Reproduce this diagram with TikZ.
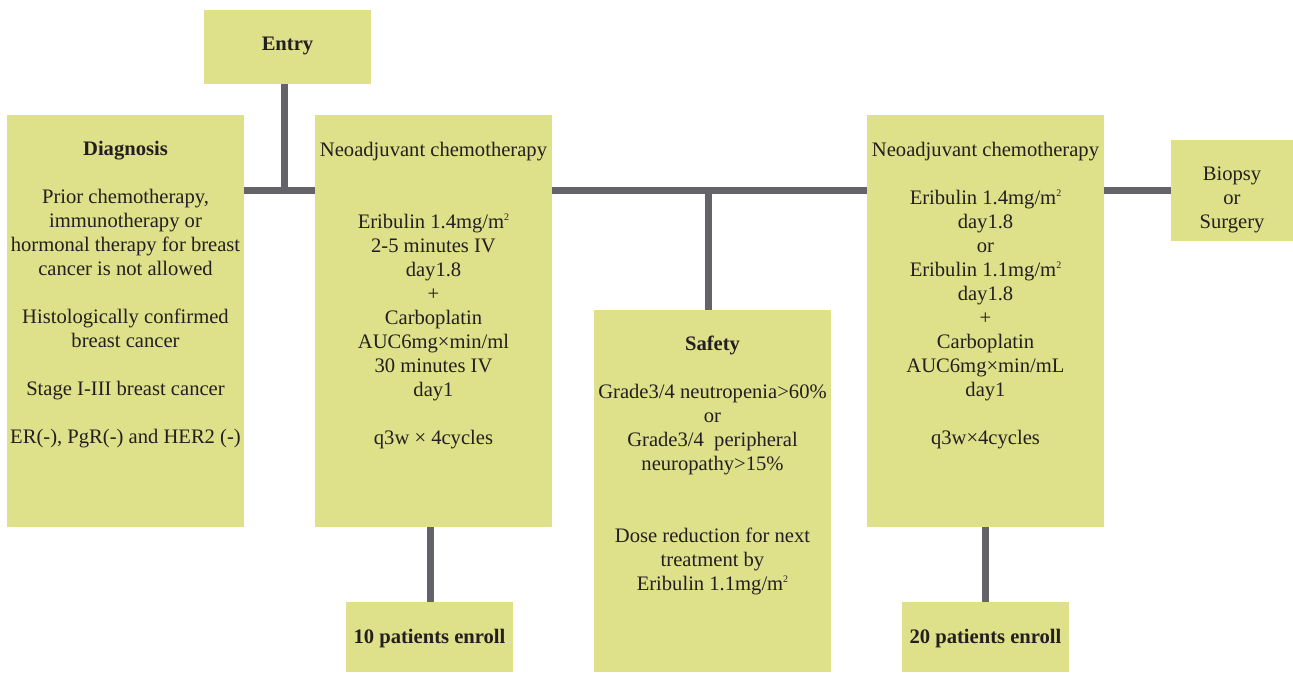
\documentclass[tikz,border=0pt]{standalone}
\usepackage{fontspec}
\setmainfont{Liberation Serif}
\usetikzlibrary{calc}
\definecolor{boxfill}{RGB}{223,224,138}
\definecolor{linec}{RGB}{99,99,105}
\definecolor{txtc}{RGB}{35,31,32}
\tikzset{
 box/.style={fill=boxfill, draw=none, anchor=north west, inner sep=0pt, outer sep=0pt},
 txt/.style={anchor=north, align=center, inner sep=0pt, text=txtc, font=\fontsize{20.6}{24}\selectfont},
 conn/.style={draw=linec, line width=7pt},
}
\newcommand{\msq}{m\raisebox{0.85ex}{\fontsize{10}{10}\selectfont 2}}
\begin{document}
\begin{tikzpicture}[x=1pt,y=-1pt]
\useasboundingbox (0,0) rectangle (1293,672);
% boxes
\node[box, minimum width=167, minimum height=74] (entry) at (204,10) {};
\node[box, minimum width=237, minimum height=412] (diag) at (7,115) {};
\node[box, minimum width=237, minimum height=412] (neo1) at (315,115) {};
\node[box, minimum width=237, minimum height=362] (safety) at (594,310) {};
\node[box, minimum width=237, minimum height=412] (neo2) at (867,115) {};
\node[box, minimum width=122, minimum height=101] (biopsy) at (1171,140) {};
\node[box, minimum width=167, minimum height=70] (p10) at (346,602) {};
\node[box, minimum width=167, minimum height=70] (p20) at (902,602) {};
% connector junctions
\coordinate (j1) at (284,190);
\coordinate (j2) at (708,190);
\coordinate (j3) at (430,560);
\coordinate (j4) at (985,560);
\draw[conn] (diag.east |- j1) -- (neo1.west |- j1);
\draw[conn] (entry.south -| j1) -- ([yshift=3.5pt]j1);
\draw[conn] (neo1.east |- j1) -- (neo2.west |- j1);
\draw[conn] (j2) -- (safety.north -| j2);
\draw[conn] (neo2.east |- j1) -- (biopsy.west |- j1);
\draw[conn] (neo1.south -| j3) -- (p10.north -| j3);
\draw[conn] (neo2.south -| j4) -- (p20.north -| j4);
% texts
\node[txt] (entryt) at ($(entry.north)+(0,27)$) {\textbf{Entry}};
\node[txt] (diagt) at ($(diag.north)+(0,26)$) {\textbf{Diagnosis}\\[24pt]
Prior chemotherapy,\\ immunotherapy or\\ hormonal therapy for breast\\ cancer is not allowed\\[24pt]
Histologically confirmed\\ breast cancer\\[24pt]
Stage I-III breast cancer\\[24pt]
ER(-), PgR(-) and HER2 (-)};
\node[txt] (neo1t) at ($(neo1.north)+(0,27)$) {Neoadjuvant chemotherapy\\[48pt]
Eribulin 1.4mg/\msq\\ 2-5 minutes IV\\ day1.8\\ +\\ Carboplatin\\ AUC6mg×min/ml\\ 30 minutes IV\\ day1\\[24pt]
q3w × 4cycles};
\node[txt] (safetyt) at ($(safety.north)+(0,26)$) {\textbf{Safety}\\[24pt]
Grade3/4 neutropenia>60\%\\ or\\ Grade3/4\ \ peripheral\\ neuropathy>15\%\\[48pt]
Dose reduction for next\\ treatment by\\ Eribulin 1.1mg/\msq};
\node[txt] (neo2t) at ($(neo2.north)+(0,27)$) {Neoadjuvant chemotherapy\\[24pt]
Eribulin 1.4mg/\msq\\ day1.8\\ or\\ Eribulin 1.1mg/\msq\\ day1.8\\ +\\ Carboplatin\\ AUC6mg×min/mL\\ day1\\[24pt]
q3w×4cycles};
\node[txt] (biopsyt) at ($(biopsy.north)+(0,27)$) {Biopsy\\ or\\ Surgery};
\node[txt] (p10t) at ($(p10.north)+(0,27)$) {\textbf{10 patients enroll}};
\node[txt] (p20t) at ($(p20.north)+(0,27)$) {\textbf{20 patients enroll}};
\end{tikzpicture}
\end{document}
